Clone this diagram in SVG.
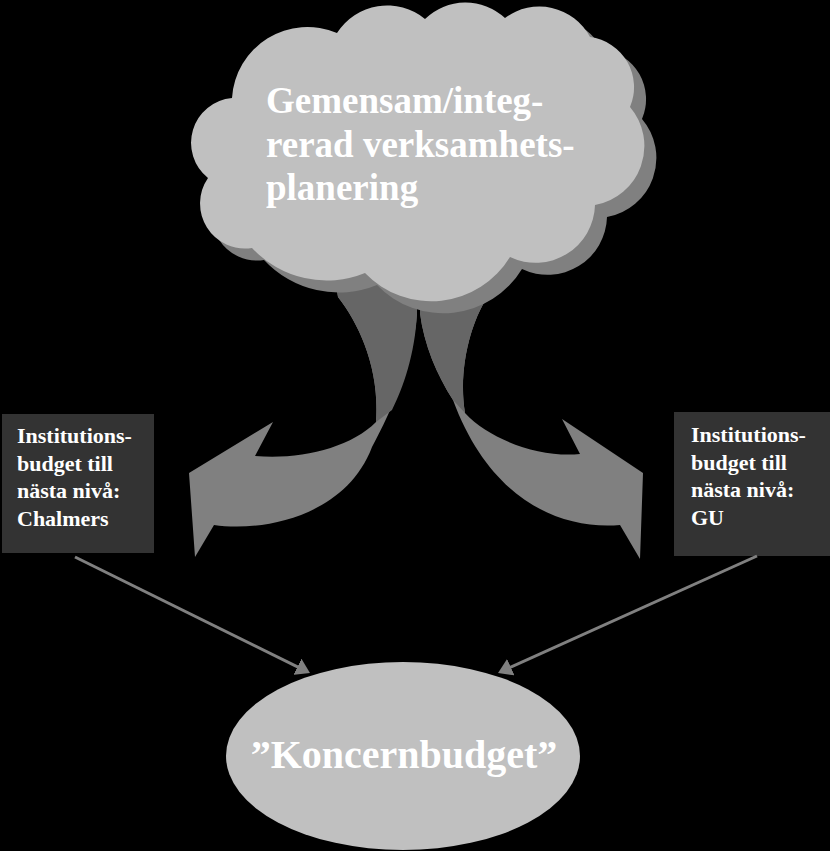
<svg xmlns="http://www.w3.org/2000/svg" width="830" height="851" viewBox="0 0 830 851">
<style>
.t{font-family:"Liberation Serif","Times New Roman",serif;font-weight:bold;fill:#FFFFFF}
.box{fill:#333333}
.conn{stroke:#808080;stroke-width:3;fill:none}
.lite{fill:#808080}
.dark{fill:#666666}
</style>
<defs>
<marker id="ah" viewBox="0 0 14 18" refX="8" refY="9" markerWidth="14" markerHeight="18" markerUnits="userSpaceOnUse" orient="auto">
<path d="M0,0 L14,9 L0,18 Z" fill="#808080"/>
</marker>
<path id="cloudShape" d="M232,98 A75.6,75.6 0 0 1 337,33 A59.5,59.5 0 0 1 425,19 A58,58 0 0 1 505,18 A57.4,57.4 0 0 1 590,37 A50.6,50.6 0 0 1 630,107 A60,60 0 0 1 595,205 A59.4,59.4 0 0 1 510,257 A92,92 0 0 1 365,273 A102,102 0 0 1 252,248 A45,45 0 0 1 208,178 A45,45 0 0 1 232,98 Z"/>
</defs>
<rect x="0" y="0" width="830" height="851" fill="#000000"/>
<g id="arrow-left">
<path class="lite" d="M376,422 C350,448 300,460 255,456 L273,422 L189,473 L195,557 L214,525 C260,532 345,518 372,447 C392,410 414,360 417,313 L417,285 L336,285 L338,297 C360,325 380,370 376,422 Z"/>
<path class="dark" d="M336,285 L338,297 C360,325 380,370 376,422 L392,410 C403,388 415,355 417,313 L417,285 Z"/>
</g>
<g id="arrow-right">
<path class="lite" d="M465,413 C490,440 540,458 580,454 L562,419 L643,473 L640,559 L620,525 C560,530 490,500 453,400 C437,375 424,345 420,313 L420,285 L494,285 L492,290 C470,320 458,370 465,413 Z"/>
<path class="dark" d="M420,285 L420,313 C424,345 437,375 453,400 L465,413 C458,370 470,320 492,290 L494,285 Z"/>
</g>
<g id="cloud">
<use href="#cloudShape" fill="#808080" transform="translate(12,12)"/>
<use href="#cloudShape" fill="#C0C0C0"/>
<text class="t" font-size="37" x="266" y="113">Gemensam/integ-</text>
<text class="t" font-size="37" x="266" y="157">rerad verksamhets-</text>
<text class="t" font-size="37" x="266" y="200">planering</text>
</g>
<g id="box-chalmers">
<rect class="box" x="2" y="414" width="152" height="139"/>
<text class="t" font-size="22" x="17" y="443">Institutions-</text>
<text class="t" font-size="22" x="17" y="471">budget till</text>
<text class="t" font-size="22" x="17" y="498">nästa nivå:</text>
<text class="t" font-size="22" x="17" y="526">Chalmers</text>
</g>
<g id="box-gu">
<rect class="box" x="674" y="412" width="156" height="144"/>
<text class="t" font-size="22" x="691" y="442">Institutions-</text>
<text class="t" font-size="22" x="691" y="470">budget till</text>
<text class="t" font-size="22" x="691" y="497">nästa nivå:</text>
<text class="t" font-size="22" x="691" y="525">GU</text>
</g>
<g id="koncernbudget">
<ellipse cx="403" cy="756" rx="177" ry="94" fill="#C0C0C0"/>
<text class="t" font-size="40" x="404" y="768" text-anchor="middle">”Koncernbudget”</text>
</g>
<g id="connectors">
<line class="conn" x1="75" y1="557" x2="304.6" y2="670.3" marker-end="url(#ah)"/>
<line class="conn" x1="757" y1="556" x2="503.5" y2="670.5" marker-end="url(#ah)"/>
</g>
</svg>
